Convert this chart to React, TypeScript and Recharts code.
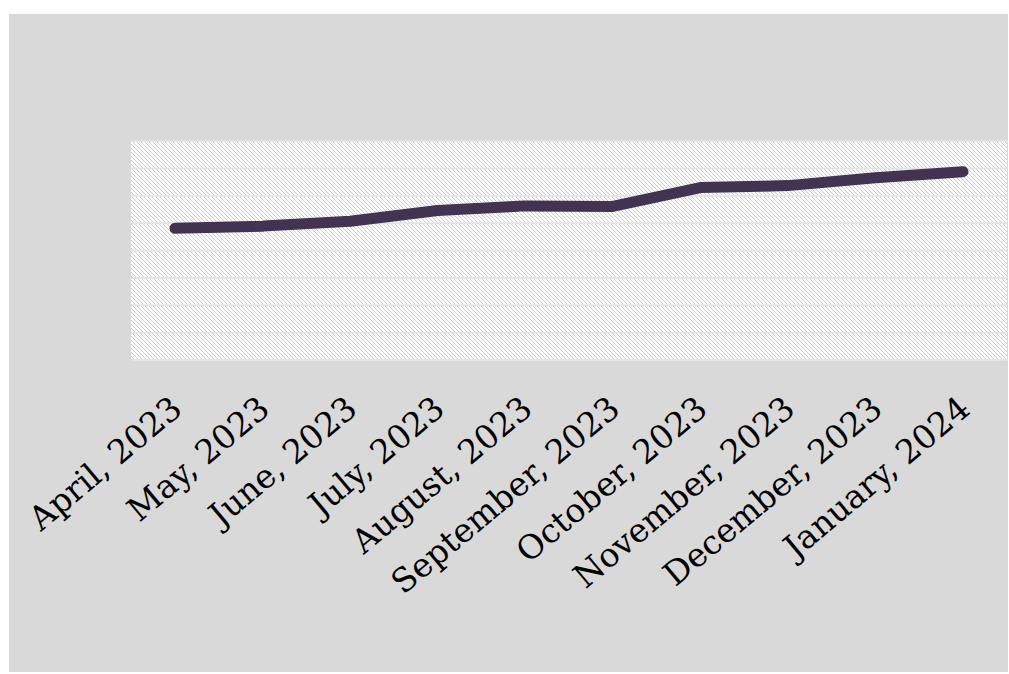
import React from 'react';
import { LineChart, Line, XAxis, YAxis, CartesianGrid } from 'recharts';

const months = [
  'April, 2023',
  'May, 2023',
  'June, 2023',
  'July, 2023',
  'August, 2023',
  'September, 2023',
  'October, 2023',
  'November, 2023',
  'December, 2023',
  'January, 2024',
];

const values = [481, 489, 507, 546, 563, 561, 630, 637, 666, 688];

const yTicks = [0, 100, 200, 300, 400, 500, 600, 700, 800];

const data = months.map((m, i) => ({ month: m, value: values[i] }));

const MonthTick = (props: any) => {
  const { x, y, payload } = props;
  const tx = x + 9;
  const ty = y + 44;
  return (
    <text
      x={tx}
      y={ty}
      transform={`rotate(-40, ${tx}, ${ty})`}
      textAnchor="end"
      fill="#000"
      fontSize={33}
      fontFamily="'DejaVu Serif', serif"
    >
      {payload.value}
    </text>
  );
};

export default function App() {
  return (
    <div style={{ position: 'fixed', left: 9, top: 14, width: 999, height: 658, background: '#d9d9d9' }}>
      <LineChart
        width={999}
        height={658}
        data={data}
        margin={{ top: 127, right: 1, left: 122, bottom: 0 }}
      >
        <defs>
          <pattern id="hatch" patternUnits="userSpaceOnUse" width="4" height="4">
            <rect width="4" height="4" fill="#ffffff" />
            <path d="M-1,-1 L5,5 M-1,3 L1,5 M3,-1 L5,1" stroke="#c8c8c8" strokeWidth="1" />
          </pattern>
        </defs>
        <CartesianGrid
          vertical={false}
          fill="url(#hatch)"
          fillOpacity={1}
          stroke="#e4e4e4"
          strokeWidth={2}
        />
        <XAxis
          dataKey="month"
          axisLine={false}
          tickLine={false}
          interval={0}
          height={312}
          padding={{ left: 44, right: 44 }}
          tick={<MonthTick />}
        />
        <YAxis hide domain={[0, 800]} ticks={yTicks} />
        <Line
          type="linear"
          dataKey="value"
          stroke="#433353"
          strokeWidth={11}
          strokeLinecap="round"
          strokeLinejoin="round"
          dot={false}
          isAnimationActive={false}
        />
      </LineChart>
    </div>
  );
}
